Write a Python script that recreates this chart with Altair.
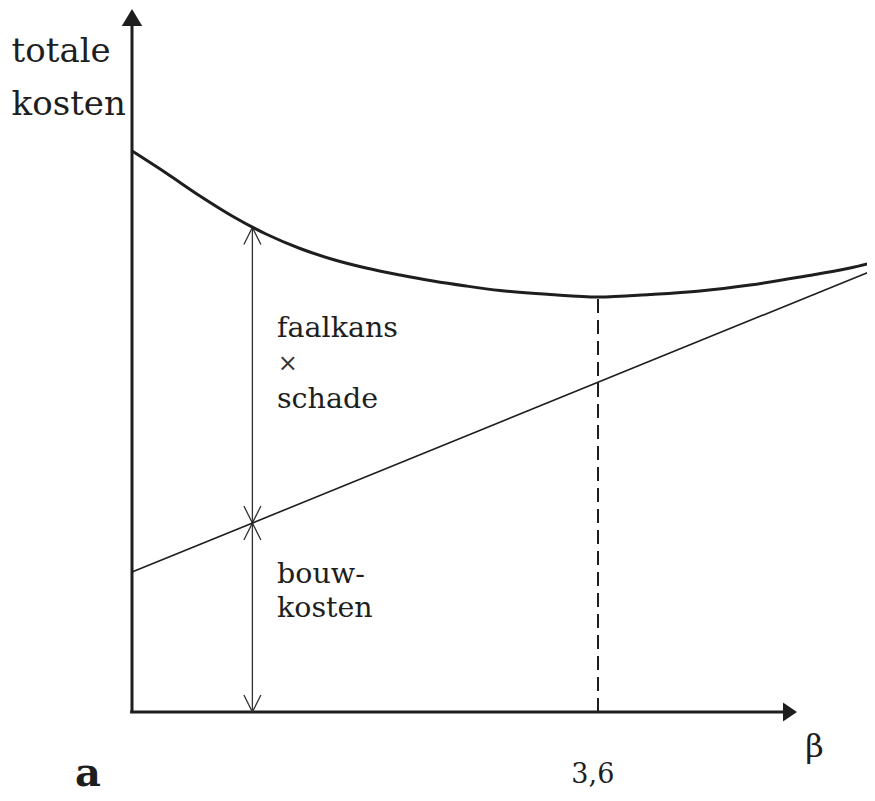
import altair as alt
import pandas as pd

# ---- data ----
beta_curve = [0, 0.263, 0.525, 0.780, 1.035, 1.298, 1.553, 1.808, 2.071, 2.326, 2.580,
              2.843, 3.229, 3.6, 4.002, 4.388, 4.774, 5.161, 5.547, 5.740]
totale_kosten = [5.61, 5.39, 5.16, 4.955, 4.78, 4.635, 4.525, 4.44, 4.37, 4.31, 4.26,
                 4.215, 4.175, 4.15, 4.175, 4.21, 4.27, 4.35, 4.44, 4.50]
beta_line = [0, 5.75]
bouwkosten = [1.40, 4.43]
beta_opt = 3.6
kosten_opt = 4.15
beta_marker = 0.93
marker_levels = [0, 1.89, 4.845]  # bottom, bouwkosten, totale kosten

X_DOMAIN = [-0.958, 5.678]
Y_DOMAIN = [-0.81, 7.04]
FONT = "DejaVu Serif"
INK = "#1e1e1e"

xs = alt.Scale(domain=X_DOMAIN, nice=False, zero=False)
ys = alt.Scale(domain=Y_DOMAIN, nice=False, zero=False)


def X(f="x"):
    return alt.X(f"{f}:Q", scale=xs, axis=None)


def Y(f="y"):
    return alt.Y(f"{f}:Q", scale=ys, axis=None)


# axes (rules)
axes_df = pd.DataFrame({
    "x": [0.0, -0.015],
    "y": [0.0, 0.0],
    "x2": [0.0, 5.06],
    "y2": [6.92, 0.0],
})
axes = alt.Chart(axes_df).mark_rule(color=INK, strokeWidth=3).encode(
    x=X(), y=Y(), x2="x2:Q", y2="y2:Q")

# arrow heads of axes
yarrow = alt.Chart(pd.DataFrame({"x": [0.0], "y": [7.03]})).mark_point(
    shape="M0,0L0.6,1L-0.6,1Z", size=1156, filled=True, color=INK, opacity=1
).encode(x=X(), y=Y())
xarrow = alt.Chart(pd.DataFrame({"x": [5.137], "y": [0.0]})).mark_point(
    shape="M0,0L-1,0.68L-1,-0.68Z", size=784, filled=True, color=INK, opacity=1
).encode(x=X(), y=Y())

# total cost curve
curve_df = pd.DataFrame({"x": beta_curve, "y": totale_kosten})
curve = alt.Chart(curve_df).mark_line(
    color=INK, strokeWidth=3, interpolate="monotone", clip=True
).encode(x=X(), y=Y())

# construction cost line
line_df = pd.DataFrame({"x": beta_line, "y": bouwkosten})
line = alt.Chart(line_df).mark_line(color=INK, strokeWidth=1.6, clip=True).encode(
    x=X(), y=Y())

# dashed vertical at optimum
dash_df = pd.DataFrame({"x": [beta_opt], "y": [0.0], "y2": [kosten_opt]})
dash = alt.Chart(dash_df).mark_rule(
    color=INK, strokeWidth=2, strokeDash=[14, 7]).encode(x=X(), y=Y(), y2="y2:Q")

# vertical dimension line with arrows
dim_df = pd.DataFrame({"x": [beta_marker], "y": [marker_levels[0]], "y2": [marker_levels[2]]})
dim = alt.Chart(dim_df).mark_rule(color="#333333", strokeWidth=1.3).encode(
    x=X(), y=Y(), y2="y2:Q")

up_df = pd.DataFrame({"x": [beta_marker, beta_marker], "y": [marker_levels[2], marker_levels[1]]})
down_df = pd.DataFrame({"x": [beta_marker, beta_marker], "y": [marker_levels[1], marker_levels[0]]})
up_heads = alt.Chart(up_df).mark_point(
    shape="M-0.5,1L0,0L0.5,1", size=1156, filled=False, color="#333333",
    strokeWidth=1.3, opacity=1).encode(x=X(), y=Y())
down_heads = alt.Chart(down_df).mark_point(
    shape="M-0.5,-1L0,0L0.5,-1", size=1156, filled=False, color="#333333",
    strokeWidth=1.3, opacity=1).encode(x=X(), y=Y())

# texts
ylabel_df = pd.DataFrame({"x": [-0.93, -0.93], "y": [6.50, 5.97], "t": ["totale", "kosten"]})
ylabel = alt.Chart(ylabel_df).mark_text(
    font=FONT, fontSize=34, align="left", baseline="alphabetic", color=INK
).encode(x=X(), y=Y(), text="t:N")

ann_df = pd.DataFrame({
    "x": [1.12, 1.12, 1.12, 1.12],
    "y": [3.75, 3.04, 1.29, 0.95],
    "t": ["faalkans", "schade", "bouw-", "kosten"],
})
ann = alt.Chart(ann_df).mark_text(
    font=FONT, fontSize=28.5, align="left", baseline="alphabetic", color=INK
).encode(x=X(), y=Y(), text="t:N")

times_lbl = alt.Chart(pd.DataFrame({"x": [1.125], "y": [3.41], "t": ["×"]})).mark_text(
    font=FONT, fontSize=24, align="left", baseline="alphabetic", color="#333333"
).encode(x=X(), y=Y(), text="t:N")

beta_lbl = alt.Chart(pd.DataFrame({"x": [5.20], "y": [-0.45], "t": ["β"]})).mark_text(
    font=FONT, fontSize=32, align="left", baseline="alphabetic", color=INK
).encode(x=X(), y=Y(), text="t:N")

tick_lbl = alt.Chart(pd.DataFrame({"x": [beta_opt - 0.04], "y": [-0.71], "t": ["3,6"]})).mark_text(
    font=FONT, fontSize=27, align="center", baseline="alphabetic", color=INK
).encode(x=X(), y=Y(), text="t:N")

panel_lbl = alt.Chart(pd.DataFrame({"x": [-0.44], "y": [-0.735], "t": ["a"]})).mark_text(
    font=FONT, fontSize=40, fontWeight="bold", align="left", baseline="alphabetic", color=INK
).encode(x=X(), y=Y(), text="t:N")

chart = alt.layer(
    axes, yarrow, xarrow, dash, dim, up_heads, down_heads, line, curve,
    ylabel, ann, times_lbl, beta_lbl, tick_lbl, panel_lbl
).properties(
    width=859, height=785, padding=0, autosize=alt.AutoSizeParams(type="none"),
    background="white"
).configure_view(stroke=None)

chart.save("out.html", embed_options={"renderer": "svg", "actions": False})
